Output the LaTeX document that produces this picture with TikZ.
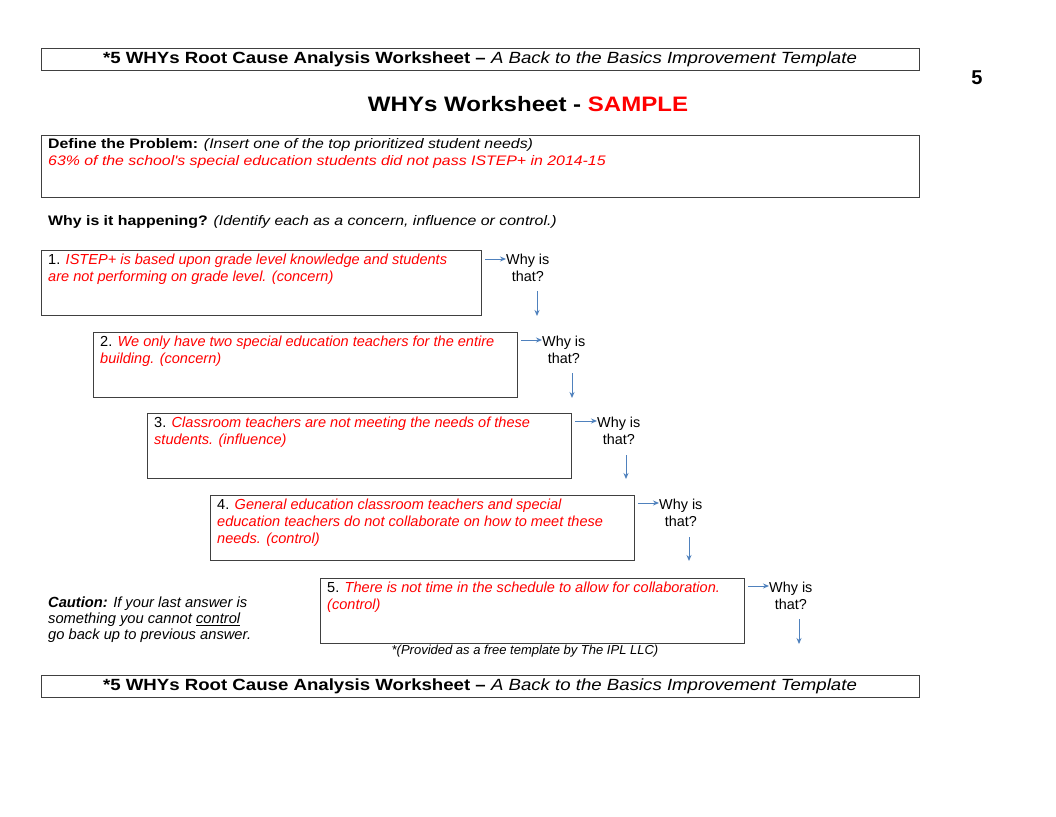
\documentclass[tikz,border=0pt]{standalone}
\usepackage{fontspec}
\setmainfont{Liberation Sans}
\newfontfamily\widefont{Liberation Sans}[FakeStretch=1.15]
\usetikzlibrary{arrows.meta}
\definecolor{boxgray}{HTML}{404040}
\definecolor{arrblue}{HTML}{4F81BD}
\definecolor{sred}{HTML}{FF0000}
\begin{document}
\begin{tikzpicture}[x=1pt,y=-1pt,
  frame/.style={draw=boxgray,line width=0.9pt,anchor=north west,inner sep=0pt},
  body/.style={anchor=north west,inner sep=0pt,align=left,font=\fontsize{14.55}{17}\selectfont},
  wbody/.style={anchor=north west,inner sep=0pt,align=left,font=\widefont\fontsize{13.8}{17}\selectfont},
  why/.style={anchor=north west,inner sep=0pt,align=center,font=\fontsize{14.4}{17}\selectfont},
  conn/.style={draw=arrblue,line width=1pt,-{Stealth[length=6pt,width=5pt]}}]
\useasboundingbox (0,0) rectangle (1056,816);
\fill[white] (0,0) rectangle (1056,816);

% header
\node[frame,minimum width=878pt,minimum height=22pt] (hdr) at (41,48) {};
\node[font=\widefont\fontsize{16.2}{18}\selectfont,inner sep=0pt] (hdrt) at (480,59) {\textbf{*5 WHYs Root Cause Analysis Worksheet –} \textit{A Back to the Basics Improvement Template}};
\node[font=\fontsize{20}{24}\selectfont\bfseries,inner sep=0pt] (pg) at (977,78) {5};
\node[font=\widefont\fontsize{20.9}{24}\selectfont\bfseries,inner sep=0pt] (title) at (528,104) {WHYs Worksheet - \textcolor{sred}{SAMPLE}};

% problem
\node[frame,minimum width=878pt,minimum height=62pt] (prob) at (41,135) {};
\node[wbody] (probt) at (48,138) {\textbf{Define the Problem:} \textit{(Insert one of the top prioritized student needs)}\\
\textcolor{sred}{\textit{63\% of the school's special education students did not pass ISTEP+ in 2014-15}}};

\node[wbody] (whyhap) at (48,215) {\textbf{Why is it happening?} \textit{(Identify each as a concern, influence or control.)}};

% boxes
\node[frame,minimum width=440pt,minimum height=65pt] (b1) at (41,250) {};
\node[body] (t1) at (48,254) {1. \textcolor{sred}{\textit{ISTEP+ is based upon grade level knowledge and students}}\\\textcolor{sred}{\textit{are not performing on grade level. (concern)}}};
\node[why] (w1) at (506,254) {Why is\\that?};
\coordinate (a1s) at (485,259); \coordinate (a1e) at (506,259);
\coordinate (d1s) at (537,291); \coordinate (d1e) at (537,316);
\draw[conn] (a1s) -- (a1e);
\draw[conn] (d1s) -- (d1e);

\node[frame,minimum width=424pt,minimum height=65pt] (b2) at (93,332) {};
\node[body] (t2) at (100,336) {2. \textcolor{sred}{\textit{We only have two special education teachers for the entire}}\\\textcolor{sred}{\textit{building. (concern)}}};
\node[why] (w2) at (542,336) {Why is\\that?};
\coordinate (a2s) at (521,340); \coordinate (a2e) at (542,340);
\coordinate (d2s) at (572,373); \coordinate (d2e) at (572,398);
\draw[conn] (a2s) -- (a2e);
\draw[conn] (d2s) -- (d2e);

\node[frame,minimum width=424pt,minimum height=65pt] (b3) at (147,413) {};
\node[body] (t3) at (154,417) {3. \textcolor{sred}{\textit{Classroom teachers are not meeting the needs of these}}\\\textcolor{sred}{\textit{students. (influence)}}};
\node[why] (w3) at (597,417) {Why is\\that?};
\coordinate (a3s) at (575,421); \coordinate (a3e) at (597,421);
\coordinate (d3s) at (626,455); \coordinate (d3e) at (626,479);
\draw[conn] (a3s) -- (a3e);
\draw[conn] (d3s) -- (d3e);

\node[frame,minimum width=424pt,minimum height=65pt] (b4) at (210,495) {};
\node[body] (t4) at (217,499) {4. \textcolor{sred}{\textit{General education classroom teachers and special}}\\\textcolor{sred}{\textit{education teachers do not collaborate on how to meet these}}\\\textcolor{sred}{\textit{needs. (control)}}};
\node[why] (w4) at (659,499) {Why is\\that?};
\coordinate (a4s) at (638,503); \coordinate (a4e) at (659,503);
\coordinate (d4s) at (689,537); \coordinate (d4e) at (689,561);
\draw[conn] (a4s) -- (a4e);
\draw[conn] (d4s) -- (d4e);

\node[frame,minimum width=424pt,minimum height=65pt] (b5) at (320,578) {};
\node[body] (t5) at (327,582) {5. \textcolor{sred}{\textit{There is not time in the schedule to allow for collaboration.}}\\\textcolor{sred}{\textit{(control)}}};
\node[why] (w5) at (769,582) {Why is\\that?};
\coordinate (a5s) at (748,586); \coordinate (a5e) at (769,586);
\coordinate (d5s) at (799,619); \coordinate (d5e) at (799,644);
\draw[conn] (a5s) -- (a5e);
\draw[conn] (d5s) -- (d5e);

% caution
\node[body,font=\fontsize{14.7}{16}\selectfont] (caut) at (48,597) {\textbf{\textit{Caution:}} \textit{If your last answer is}\\\textit{something you cannot \underline{control}}\\\textit{go back up to previous answer.}};

\node[font=\fontsize{13}{14}\selectfont\itshape,inner sep=0pt] (prov) at (525,651) {*(Provided as a free template by The IPL LLC)};

% footer
\node[frame,minimum width=878pt,minimum height=22pt] (ftr) at (41,675) {};
\node[font=\widefont\fontsize{16.2}{18}\selectfont,inner sep=0pt] (ftrt) at (480,686) {\textbf{*5 WHYs Root Cause Analysis Worksheet –} \textit{A Back to the Basics Improvement Template}};
\end{tikzpicture}
\end{document}
